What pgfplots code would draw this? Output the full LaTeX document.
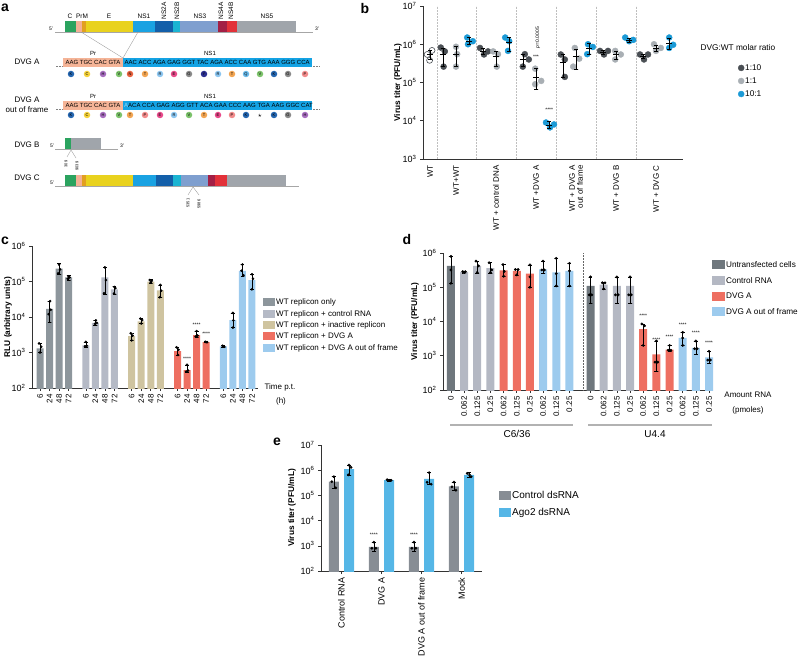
\documentclass[border=0pt]{standalone}
\usepackage{fontspec}
\setmainfont{Liberation Sans}
\usepackage{pgfplots}
\pgfplotsset{compat=1.18}

% genome colours
\definecolor{gC}{HTML}{2BA35F}
\definecolor{gPr}{HTML}{F3B196}
\definecolor{gM}{HTML}{E2A020}
\definecolor{gE}{HTML}{E9D21E}
\definecolor{gN1}{HTML}{1AA2E2}
\definecolor{gN2A}{HTML}{135FA9}
\definecolor{gN2B}{HTML}{1BB4D2}
\definecolor{gN3}{HTML}{7F9FCF}
\definecolor{gN4A}{HTML}{A31F45}
\definecolor{gN4B}{HTML}{E23139}
\definecolor{gN5}{HTML}{A0A5AB}
\definecolor{sal}{HTML}{F5B497}
\definecolor{seqb}{HTML}{14A3E4}
% amino acids
\definecolor{aK}{HTML}{2566B0}
\definecolor{aC}{HTML}{F5D23B}
\definecolor{aH}{HTML}{A76DBF}
\definecolor{aV}{HTML}{7CC36B}
\definecolor{aN}{HTML}{E8623F}
\definecolor{aT}{HTML}{F3A552}
\definecolor{aR}{HTML}{8CC6F0}
\definecolor{aE}{HTML}{E84A8A}
\definecolor{aG}{HTML}{8A8A8A}
\definecolor{aY}{HTML}{2A2E8F}
\definecolor{aQ}{HTML}{69B9E9}
\definecolor{aP}{HTML}{F28B8B}
% charts
\definecolor{bDark}{HTML}{4A4F54}
\definecolor{bLight}{HTML}{A9AFB4}
\definecolor{bBlue}{HTML}{1B9AD6}
\definecolor{cG1}{HTML}{8D969C}
\definecolor{cG2}{HTML}{B5BAC6}
\definecolor{cTan}{HTML}{CFC4A0}
\definecolor{cRed}{HTML}{EE6F61}
\definecolor{cBlue}{HTML}{9DCBEE}
\definecolor{dDark}{HTML}{6F777D}
\definecolor{dGray}{HTML}{B4B8C3}
\definecolor{eGray}{HTML}{878D94}
\definecolor{eBlue}{HTML}{55B6E6}

\newcommand{\fsz}[1]{\fontsize{#1}{#1}\selectfont}
\newcommand{\tpow}[1]{10\textsuperscript{#1}}

\begin{document}
\begin{tikzpicture}
\useasboundingbox (0pt,0pt) rectangle (800pt,-658pt);

%%%%%%%%%%%%%%%% panel a : schematic
\begin{scope}[x=1pt,y=-1pt]
\node[font=\bfseries\fsz{14}] at (5,8) {a};
\draw[black!35, line width=0.7pt] (55,32) -- (313,32);
\node[font=\fsz{5}] at (51,29) {5'};
\node[font=\fsz{5}] at (317,29) {3'};
\foreach \a/\b/\c in {65/76/gC, 76/82/gPr, 82/86/gM, 86/133/gE, 133/155/gN1,
    155/173/gN2A, 173/180/gN2B, 180/218/gN3, 218/227/gN4A, 227/237/gN4B, 237/296/gN5}
  \fill[\c] (\a,21) rectangle (\b,32);
\begin{scope}[font=\fsz{6.5}]
\node at (70,16) {C};
\node at (82,16) {PrM};
\node at (109,16) {E};
\node at (144,16) {NS1};
\node at (200,16) {NS3};
\node at (267,16) {NS5};
\node[rotate=90] at (164,11) {NS2A};
\node[rotate=90] at (177,11) {NS2B};
\node[rotate=90] at (221,11) {NS4A};
\node[rotate=90] at (231,11) {NS4B};
\end{scope}
\draw[black!40, line width=0.35pt] (81,32) -- (123,58) -- (138,32);

% DVG A
\node[font=\fsz{8}] at (27,62) {DVG A};
\fill[sal] (63,58) rectangle (123,67);
\fill[seqb] (123,58) rectangle (312,67);
\node[font=\fsz{6}] at (93,62.5) {AAG TGC CAC GTA};
\node[font=\fsz{6}, anchor=west, inner sep=0pt] at (124.5,62.5) {AAC ACC AGA GAG GGT TAC AGA ACC CAA GTG AAA GGG CCA};
\node[font=\fsz{6}] at (93,53) {Pr};
\node[font=\fsz{6}] at (210,53) {NS1};
\draw[black!50, densely dotted] (56,66) -- (62,66);
\draw[black!50, densely dotted] (313,66) -- (319,66);
\foreach \x/\l/\c in {71/K/aK, 87/C/aC, 103/H/aH, 119/V/aV, 130/N/aN, 145/T/aT,
    160/R/aR, 174/E/aE, 189/G/aG, 204/Y/aY, 218/R/aR, 232/T/aT, 246/Q/aQ,
    260/V/aV, 274/K/aK, 288/G/aG, 305/P/aP}
  \node[circle, fill=\c, inner sep=0pt, minimum size=6.5pt, font=\fsz{4}] at (\x,74) {\l};

% DVG A out of frame
\node[font=\fsz{8}] at (27,100) {DVG A};
\node[font=\fsz{8}] at (27,110) {out of frame};
\fill[sal] (63,101) rectangle (123,110);
\fill[seqb] (123,101) rectangle (312,110);
\node[font=\fsz{6}] at (93,105.5) {AAG TGC CAC GTA};
\node[font=\fsz{6}, anchor=west, inner sep=0pt] at (124,105.5) {{\color{white!55!seqb}A}ACA CCA GAG AGG GTT ACA GAA CCC AAG TGA AAG GGC CAT};
\node[font=\fsz{6}] at (93,96) {Pr};
\node[font=\fsz{6}] at (210,96) {NS1};
\draw[black!50, densely dotted] (56,109) -- (62,109);
\draw[black!50, densely dotted] (313,109) -- (319,109);
\foreach \x/\l/\c in {71/K/aK, 87/C/aC, 103/H/aH, 119/V/aV, 130/T/aT, 145/P/aP,
    160/E/aE, 174/R/aR, 189/V/aV, 204/T/aT, 218/E/aE, 232/P/aP, 246/K/aK,
    274/K/aK, 288/G/aG, 305/H/aH}
  \node[circle, fill=\c, inner sep=0pt, minimum size=6.5pt, font=\fsz{4}] at (\x,115) {\l};
\node[font=\fsz{7}] at (260,115.5) {$\star$};

% DVG B
\node[font=\fsz{8}] at (27,145) {DVG B};
\draw[black!35, line width=0.7pt] (55,149) -- (118,149);
\node[font=\fsz{5}] at (52,146) {5'};
\node[font=\fsz{5}] at (122,146) {3'};
\fill[gC] (65,138) rectangle (71,149);
\fill[gN5] (71,138) rectangle (101,149);
\draw[black!45, line width=0.3pt] (67,157) -- (71,150) -- (76,158);
\node[rotate=90, font=\fsz{4}] at (66,164) {309};
\node[rotate=90, font=\fsz{4}] at (77,166) {9039};

% DVG C
\node[font=\fsz{8}] at (27,178) {DVG C};
\draw[black!35, line width=0.7pt] (55,186) -- (299,186);
\node[font=\fsz{5}] at (52,183) {5'};
\foreach \a/\b/\c in {65/76/gC, 76/82/gPr, 82/86/gM, 86/133/gE, 133/156/gN1,
    156/173/gN2A, 173/181/gN2B, 181/208/gN3, 208/215/gN4A, 215/227/gN4B, 227/286/gN5}
  \fill[\c] (\a,175) rectangle (\b,186);
\draw[black!45, line width=0.3pt] (188,195) -- (193,187) -- (199,195);
\node[rotate=90, font=\fsz{4}] at (188,203) {5351};
\node[rotate=90, font=\fsz{4}] at (199,204) {5986};

% other panel letters and free text
\node[font=\bfseries\fsz{14}] at (365,8) {b};
\node[font=\bfseries\fsz{14}] at (5,241) {c};
\node[font=\bfseries\fsz{14}] at (407,239) {d};
\node[font=\bfseries\fsz{14}] at (277,442) {e};
\node[font=\fsz{8.3}, anchor=west] at (697,48) {DVG:WT molar ratio};
\node[font=\fsz{8}] at (280,387) {Time p.t.};
\node[font=\fsz{8}] at (281,401) {(h)};
\node[font=\fsz{8}] at (748,395) {Amount\,\,RNA};
\node[font=\fsz{8}] at (748,410) {(pmoles)};
\draw[black!30, line width=1.2pt] (450,425) -- (573,425);
\node[font=\fsz{10}] at (517,434) {C6/36};
\draw[black!30, line width=1.2pt] (588,425) -- (712,425);
\node[font=\fsz{10}] at (655,434) {U4.4};
\end{scope}

%%%%%%%%%%%%%%%% panel b
\begin{axis}[scale only axis, anchor=south west, clip mode=individual,
  axis x line=bottom, axis y line=left,
  axis line style={-, line width=0.8pt, black!80},
  ymode=log, yminorticks=false, unbounded coords=jump,
  tick align=outside, major tick length=3pt,
  tick style={line width=0.6pt, black!80},
  yticklabel style={font=\fsz{9}},
  xticklabel style={font=\fsz{8}, rotate=90, anchor=east, align=right},
  ylabel style={font=\bfseries\fsz{8.3}, at={(axis description cs:-0.096,0.5)}, anchor=center},
  legend cell align=left,
  at={(423pt,-159pt)}, width=260pt, height=153pt,
  xmin=-0.825, xmax=5.675, ymin=1e3, ymax=1e7,
  ytick={1e3,1e4,1e5,1e6,1e7}, yticklabels={\tpow3,\tpow4,\tpow5,\tpow6,\tpow7},
  xtick={-0.65,0,1,2,3,4,5},
  xticklabels={WT, WT+WT, WT + control DNA, WT +DVG A, {WT + DVG A\\out of frame}, WT + DVG B, WT + DVG C},
  major x tick style={draw=none},
  ylabel={Virus titer (PFU/mL)},
  legend style={draw=none, fill=none, at={(1.2,0.64)}, anchor=north west, font=\fsz{8.3}, row sep=3.8pt, nodes={inner sep=1pt}},
]
\draw[black!25, densely dotted, line width=0.5pt] (axis cs:-0.475,1e3) -- (axis cs:-0.475,1e7);
\draw[black!25, densely dotted, line width=0.5pt] (axis cs:0.5,1e3) -- (axis cs:0.5,1e7);
\draw[black!25, densely dotted, line width=0.5pt] (axis cs:1.5,1e3) -- (axis cs:1.5,1e7);
\draw[black!25, densely dotted, line width=0.5pt] (axis cs:2.5,1e3) -- (axis cs:2.5,1e7);
\draw[black!25, densely dotted, line width=0.5pt] (axis cs:3.5,1e3) -- (axis cs:3.5,1e7);
\draw[black!25, densely dotted, line width=0.5pt] (axis cs:4.5,1e3) -- (axis cs:4.5,1e7);
% WT alone
\addplot[forget plot, only marks, mark=*, mark size=3pt, draw=bDark, fill=white, line width=0.6pt]
  coordinates {(-0.72,5.4e5) (-0.60,6.9e5) (-0.66,3.8e5)};
% 1:10
\addplot[only marks, mark=*, mark size=3pt, color=bDark] coordinates {
  (-0.38,8.2e5) (-0.28,6.5e5) (-0.31,2.6e5)
  (0.60,8e5) (0.70,5.4e5) (0.80,6.5e5)
  (1.72,5.5e5) (1.82,4e5) (1.67,2.6e5)
  (2.62,5.4e5) (2.72,4e5) (2.72,1.4e5)
  (3.60,6.7e5) (3.70,5.4e5) (3.80,6.7e5)
  (4.60,5.4e5) (4.70,4e5) (4.80,5.4e5)};
\addlegendentry{1:10}
% 1:1
\addplot[only marks, mark=*, mark size=3pt, color=bLight] coordinates {
  (0,8.6e5) (0.03,5.5e5) (0,2.6e5)
  (0.93,6.5e5) (1.05,5.5e5) (1.02,2.6e5)
  (1.98,2.3e5) (2.13,1.1e5) (1.98,9e4)
  (2.97,8e5) (2.93,2.6e5) (3.08,4.2e5)
  (3.98,6.7e5) (3.98,4e5) (4.12,5.4e5)
  (4.95,1e6) (5.00,6.7e5) (5.12,8e5)};
\addlegendentry{1:1}
% 10:1
\addplot[only marks, mark=*, mark size=3pt, color=bBlue] coordinates {
  (0.28,1.5e6) (0.42,1.2e6) (0.30,1e6)
  (1.23,1.5e6) (1.33,1.2e6) (1.30,6.7e5)
  (2.25,9e3) (2.35,6.7e3) (2.45,8e3)
  (3.28,5.5e5) (3.30,1e6) (3.42,8.5e5)
  (4.23,1.5e6) (4.33,1.2e6) (4.43,1.3e6)
  (5.33,1.5e6) (5.33,8e5) (5.43,9.7e5)};
\addlegendentry{10:1}
% mean (short dash) and SD whiskers
\addplot[forget plot, black, line width=0.6pt, mark=none] coordinates {
(-0.70,4e5) (-0.60,4e5) (-0.65,4e5) (-0.65,6.8e5) (-0.70,6.8e5) (-0.60,6.8e5) (-0.65,nan) (-0.73,5.4e5) (-0.57,5.4e5) (-0.65,nan)
(-0.38,2.6e5) (-0.28,2.6e5) (-0.33,2.6e5) (-0.33,8e5) (-0.38,8e5) (-0.28,8e5) (-0.33,nan) (-0.41,5.6e5) (-0.25,5.6e5) (-0.33,nan)
(0.62,5.4e5) (0.72,5.4e5) (0.67,5.4e5) (0.67,8e5) (0.62,8e5) (0.72,8e5) (0.67,nan) (0.59,6.5e5) (0.75,6.5e5) (0.67,nan)
(1.62,2.6e5) (1.72,2.6e5) (1.67,2.6e5) (1.67,5.5e5) (1.62,5.5e5) (1.72,5.5e5) (1.67,nan) (1.59,4e5) (1.75,4e5) (1.67,nan)
(2.62,1.4e5) (2.72,1.4e5) (2.67,1.4e5) (2.67,5.5e5) (2.62,5.5e5) (2.72,5.5e5) (2.67,nan) (2.59,3.4e5) (2.75,3.4e5) (2.67,nan)
(3.62,5.6e5) (3.72,5.6e5) (3.67,5.6e5) (3.67,6.8e5) (3.62,6.8e5) (3.72,6.8e5) (3.67,nan) (3.59,6.2e5) (3.75,6.2e5) (3.67,nan)
(4.62,4.2e5) (4.72,4.2e5) (4.67,4.2e5) (4.67,5.6e5) (4.62,5.6e5) (4.72,5.6e5) (4.67,nan) (4.59,4.9e5) (4.75,4.9e5) (4.67,nan)
(-0.05,2.6e5) (0.05,2.6e5) (0,2.6e5) (0,8.8e5) (-0.05,8.8e5) (0.05,8.8e5) (0,nan) (-0.08,5.5e5) (0.08,5.5e5) (0,nan)
(0.95,2.6e5) (1.05,2.6e5) (1,2.6e5) (1,6.6e5) (0.95,6.6e5) (1.05,6.6e5) (1,nan) (0.92,4.8e5) (1.08,4.8e5) (1,nan)
(1.95,6.5e4) (2.05,6.5e4) (2,6.5e4) (2,2.3e5) (1.95,2.3e5) (2.05,2.3e5) (2,nan) (1.92,1.4e5) (2.08,1.4e5) (2,nan)
(2.95,2.2e5) (3.05,2.2e5) (3,2.2e5) (3,7.5e5) (2.95,7.5e5) (3.05,7.5e5) (3,nan) (2.92,4.7e5) (3.08,4.7e5) (3,nan)
(3.95,4e5) (4.05,4e5) (4,4e5) (4,6.7e5) (3.95,6.7e5) (4.05,6.7e5) (4,nan) (3.92,5.3e5) (4.08,5.3e5) (4,nan)
(4.95,6.5e5) (5.05,6.5e5) (5,6.5e5) (5,9.6e5) (4.95,9.6e5) (5.05,9.6e5) (5,nan) (4.92,8e5) (5.08,8e5) (5,nan)
(0.28,1e6) (0.38,1e6) (0.33,1e6) (0.33,1.5e6) (0.28,1.5e6) (0.38,1.5e6) (0.33,nan) (0.25,1.2e6) (0.41,1.2e6) (0.33,nan)
(1.28,6.7e5) (1.38,6.7e5) (1.33,6.7e5) (1.33,1.5e6) (1.28,1.5e6) (1.38,1.5e6) (1.33,nan) (1.25,1.1e6) (1.41,1.1e6) (1.33,nan)
(2.28,6.5e3) (2.38,6.5e3) (2.33,6.5e3) (2.33,9.5e3) (2.28,9.5e3) (2.38,9.5e3) (2.33,nan) (2.25,7.8e3) (2.41,7.8e3) (2.33,nan)
(3.28,5.5e5) (3.38,5.5e5) (3.33,5.5e5) (3.33,1.05e6) (3.28,1.05e6) (3.38,1.05e6) (3.33,nan) (3.25,8e5) (3.41,8e5) (3.33,nan)
(4.28,1.15e6) (4.38,1.15e6) (4.33,1.15e6) (4.33,1.45e6) (4.28,1.45e6) (4.38,1.45e6) (4.33,nan) (4.25,1.3e6) (4.41,1.3e6) (4.33,nan)
(5.28,7.5e5) (5.38,7.5e5) (5.33,7.5e5) (5.33,1.45e6) (5.28,1.45e6) (5.38,1.45e6) (5.33,nan) (5.25,1.05e6) (5.41,1.05e6)};
\node[font=\fsz{5}] at (axis cs:2,4.6e5) {***};
\node[font=\fsz{5}] at (axis cs:2.33,1.9e4) {****};
\node[font=\fsz{5}, rotate=90] at (axis cs:2.05,1.5e6) {\textit{p}=0.0005};
\end{axis}

%%%%%%%%%%%%%%%% panel c
\begin{axis}[scale only axis, anchor=south west, clip mode=individual,
  axis x line=bottom, axis y line=left,
  axis line style={-, line width=0.8pt, black!80},
  ymode=log, yminorticks=false, unbounded coords=jump,
  tick align=outside, major tick length=3pt,
  tick style={line width=0.6pt, black!80},
  yticklabel style={font=\fsz{9}},
  xticklabel style={font=\fsz{8}, rotate=90, anchor=east},
  ylabel style={font=\bfseries\fsz{8.3}, at={(axis description cs:-0.106,0.5)}, anchor=center},
  legend cell align=left,
  at={(32pt,-388pt)}, width=226pt, height=142pt,
  xmin=-0.84, xmax=22.83, ymin=1e2, ymax=1e6,
  ytick={1e2,1e3,1e4,1e5,1e6}, yticklabels={\tpow2,\tpow3,\tpow4,\tpow5,\tpow6},
  xtick={0,1,2,3,4.8,5.8,6.8,7.8,9.6,10.6,11.6,12.6,14.4,15.4,16.4,17.4,19.2,20.2,21.2,22.2},
  xticklabels={6,24,48,72,6,24,48,72,6,24,48,72,6,24,48,72,6,24,48,72},
  ylabel={RLU (arbitrary units)},
  legend image code/.code={\fill[#1, draw=none] (0pt,-3.5pt) rectangle (12pt,4.5pt);},
  legend style={draw=none, fill=none, at={(1.009,0.648)}, anchor=north west, font=\fsz{8}, row sep=2pt, nodes={inner sep=1pt}},
]
\addlegendimage{fill=cG1, draw=none}
\addlegendentry{WT replicon only}
\addlegendimage{fill=cG2, draw=none}
\addlegendentry{WT replicon + control RNA}
\addlegendimage{fill=cTan, draw=none}
\addlegendentry{WT replicon + inactive replicon}
\addlegendimage{fill=cRed, draw=none}
\addlegendentry{WT replicon + DVG A}
\addlegendimage{fill=cBlue, draw=none}
\addlegendentry{WT replicon + DVG A out of frame}
\addplot[forget plot, ybar, bar width=7pt, bar shift=0pt, draw=none, fill=cG1] coordinates {
  (0,1.3e3) (1,1.7e4) (2,2.3e5) (3,1.3e5)};
\addplot[forget plot, ybar, bar width=7pt, bar shift=0pt, draw=none, fill=cG2] coordinates {
  (4.8,1.6e3) (5.8,6.8e3) (6.8,1.3e5) (7.8,6e4)};
\addplot[forget plot, ybar, bar width=7pt, bar shift=0pt, draw=none, fill=cTan] coordinates {
  (9.6,2.9e3) (10.6,7.5e3) (11.6,1e5) (12.6,5.6e4)};
\addplot[forget plot, ybar, bar width=7pt, bar shift=0pt, draw=none, fill=cRed] coordinates {
  (14.4,1.1e3) (15.4,3.2e2) (16.4,3.1e3) (17.4,1.95e3)};
\addplot[forget plot, ybar, bar width=7pt, bar shift=0pt, draw=none, fill=cBlue] coordinates {
  (19.2,1.5e3) (20.2,8.2e3) (21.2,2e5) (22.2,1.1e5)};
% SD whiskers
\addplot[forget plot, black, line width=0.5pt, mark=none] coordinates {
(-0.2,1e3) (0.2,1e3) (0,1e3) (0,1.8e3) (-0.2,1.8e3) (0.2,1.8e3) (0,nan)
(0.8,7e3) (1.2,7e3) (1,7e3) (1,2.8e4) (0.8,2.8e4) (1.2,2.8e4) (1,nan)
(1.8,1.6e5) (2.2,1.6e5) (2,1.6e5) (2,3.2e5) (1.8,3.2e5) (2.2,3.2e5) (2,nan)
(2.8,1.1e5) (3.2,1.1e5) (3,1.1e5) (3,1.5e5) (2.8,1.5e5) (3.2,1.5e5) (3,nan)
(4.6,1.4e3) (5.0,1.4e3) (4.8,1.4e3) (4.8,2e3) (4.6,2e3) (5.0,2e3) (4.8,nan)
(5.6,6e3) (6.0,6e3) (5.8,6e3) (5.8,8e3) (5.6,8e3) (6.0,8e3) (5.8,nan)
(6.6,4.5e4) (7.0,4.5e4) (6.8,4.5e4) (6.8,2.6e5) (6.6,2.6e5) (7.0,2.6e5) (6.8,nan)
(7.6,4.5e4) (8.0,4.5e4) (7.8,4.5e4) (7.8,7.5e4) (7.6,7.5e4) (8.0,7.5e4) (7.8,nan)
(9.4,2.2e3) (9.8,2.2e3) (9.6,2.2e3) (9.6,3.6e3) (9.4,3.6e3) (9.8,3.6e3) (9.6,nan)
(10.4,6.5e3) (10.8,6.5e3) (10.6,6.5e3) (10.6,9e3) (10.4,9e3) (10.8,9e3) (10.6,nan)
(11.4,9e4) (11.8,9e4) (11.6,9e4) (11.6,1.15e5) (11.4,1.15e5) (11.8,1.15e5) (11.6,nan)
(12.4,3.6e4) (12.8,3.6e4) (12.6,3.6e4) (12.6,8e4) (12.4,8e4) (12.8,8e4) (12.6,nan)
(14.2,8.5e2) (14.6,8.5e2) (14.4,8.5e2) (14.4,1.4e3) (14.2,1.4e3) (14.6,1.4e3) (14.4,nan)
(15.2,2.8e2) (15.6,2.8e2) (15.4,2.8e2) (15.4,4.5e2) (15.2,4.5e2) (15.6,4.5e2) (15.4,nan)
(16.2,2.7e3) (16.6,2.7e3) (16.4,2.7e3) (16.4,4e3) (16.2,4e3) (16.6,4e3) (16.4,nan)
(17.2,1.9e3) (17.6,1.9e3) (17.4,1.9e3) (17.4,2.05e3) (17.2,2.05e3) (17.6,2.05e3) (17.4,nan)
(19.0,1.4e3) (19.4,1.4e3) (19.2,1.4e3) (19.2,1.6e3) (19.0,1.6e3) (19.4,1.6e3) (19.2,nan)
(20.0,5e3) (20.4,5e3) (20.2,5e3) (20.2,1.3e4) (20.0,1.3e4) (20.4,1.3e4) (20.2,nan)
(21.0,1.4e5) (21.4,1.4e5) (21.2,1.4e5) (21.2,3e5) (21.0,3e5) (21.4,3e5) (21.2,nan)
(22.0,6e4) (22.4,6e4) (22.2,6e4) (22.2,1.6e5) (22.0,1.6e5) (22.4,1.6e5)};
\addplot[forget plot, only marks, mark=*, mark size=1.1pt, black] coordinates {
  (-0.1,1.8e3) (0.12,1.45e3) (0,1.0e3)
  (1.05,2.8e4) (1.12,1.6e4) (0.9,1.2e4)
  (2,3e5) (2.1,2.2e5) (1.9,1.7e5)
  (3,1.4e5) (3.1,1.3e5) (2.9,1.2e5)
  (4.8,2e3) (4.7,1.5e3) (4.9,1.55e3)
  (5.85,8e3) (5.75,6.4e3) (5.95,6.8e3)
  (6.8,2.5e5) (6.9,1.1e5) (6.7,4.7e4)
  (7.8,7e4) (7.9,6.5e4) (7.75,4.6e4)
  (9.5,3.5e3) (9.7,3e3) (9.6,2.2e3)
  (10.5,9e3) (10.7,8.2e3) (10.6,6.6e3)
  (11.5,1.1e5) (11.7,1.05e5) (11.6,9.5e4)
  (12.6,8e4) (12.7,5.5e4) (12.55,3.6e4)
  (14.3,1.4e3) (14.5,1.2e3) (14.45,8.5e2)
  (15.4,4.5e2) (15.3,2.9e2) (15.5,3.1e2)
  (16.4,4e3) (16.3,2.8e3) (16.5,3e3)
  (17.3,2e3) (17.4,1.95e3) (17.5,1.95e3)
  (19.1,1.55e3) (19.2,1.5e3) (19.3,1.45e3)
  (20.2,1.3e4) (20.25,8e3) (20.2,5e3)
  (21.2,3e5) (21.1,2e5) (21.3,1.5e5)
  (22.2,1.6e5) (22.3,1.2e5) (22.2,6e4)};
\node[font=\fsz{5}] at (axis cs:15.4,6.6e2) {****};
\node[font=\fsz{5}] at (axis cs:16.4,5.9e3) {****};
\node[font=\fsz{5}] at (axis cs:17.4,3.3e3) {****};
\end{axis}

%%%%%%%%%%%%%%%% panel d
\begin{axis}[scale only axis, anchor=south west, clip mode=individual,
  axis x line=bottom, axis y line=left,
  axis line style={-, line width=0.8pt, black!80},
  ymode=log, yminorticks=false, unbounded coords=jump,
  tick align=outside, major tick length=3pt,
  tick style={line width=0.6pt, black!80},
  yticklabel style={font=\fsz{9}},
  xticklabel style={font=\fsz{8}, rotate=90, anchor=east},
  ylabel style={font=\bfseries\fsz{8.3}, at={(axis description cs:-0.104,0.5)}, anchor=center},
  legend cell align=left,
  at={(443pt,-390pt)}, width=270pt, height=137pt,
  xmin=-0.6, xmax=19.9, ymin=1e2, ymax=1e6,
  ytick={1e2,1e3,1e4,1e5,1e6}, yticklabels={\tpow2,\tpow3,\tpow4,\tpow5,\tpow6},
  xtick={0,1,2,3,4,5,6,7,8,9,10.6,11.6,12.6,13.6,14.6,15.6,16.6,17.6,18.6,19.6},
  xticklabels={0,0.062,0.125,0.25,0.062,0.125,0.25,0.062,0.125,0.25,0,0.062,0.125,0.25,0.062,0.125,0.25,0.062,0.125,0.25},
  ylabel={Virus titer (PFU/mL)},
  legend image code/.code={\fill[#1, draw=none] (0pt,-4pt) rectangle (13pt,5pt);},
  legend style={draw=none, fill=none, at={(0.985,0.963)}, anchor=north west, font=\fsz{8.2}, row sep=6pt, nodes={inner sep=1pt}},
]
\draw[black!60, densely dotted, line width=0.5pt] (axis cs:10.05,1e2) -- (axis cs:10.05,1e6);
\addlegendimage{fill=dDark, draw=none}
\addlegendentry{Untransfected cells}
\addlegendimage{fill=dGray, draw=none}
\addlegendentry{Control RNA}
\addlegendimage{fill=cRed, draw=none}
\addlegendentry{DVG A}
\addlegendimage{fill=cBlue, draw=none}
\addlegendentry{DVG A out of frame}
\addplot[forget plot, ybar, bar width=8pt, bar shift=0pt, draw=none, fill=dDark] coordinates {
  (0,4.2e5) (10.6,1.1e5)};
\addplot[forget plot, ybar, bar width=8pt, bar shift=0pt, draw=none, fill=dGray] coordinates {
  (1,2.8e5) (2,4.2e5) (3,3.6e5) (11.6,1.2e5) (12.6,1.1e5) (13.6,1.1e5)};
\addplot[forget plot, ybar, bar width=8pt, bar shift=0pt, draw=none, fill=cRed] coordinates {
  (4,3.1e5) (5,3e5) (6,2.5e5) (14.6,6e3) (15.6,1.1e3) (16.6,1.5e3)};
\addplot[forget plot, ybar, bar width=8pt, bar shift=0pt, draw=none, fill=cBlue] coordinates {
  (7,3.3e5) (8,2.7e5) (9,3e5) (17.6,3.3e3) (18.6,1.7e3) (19.6,9e2)};
% SD whiskers
\addplot[forget plot, black, line width=0.5pt, mark=none] coordinates {
(-0.15,1.3e5) (0.15,1.3e5) (0,1.3e5) (0,8e5) (-0.15,8e5) (0.15,8e5) (0,nan)
(0.85,2.65e5) (1.15,2.65e5) (1,2.65e5) (1,2.95e5) (0.85,2.95e5) (1.15,2.95e5) (1,nan)
(1.85,2.6e5) (2.15,2.6e5) (2,2.6e5) (2,5.8e5) (1.85,5.8e5) (2.15,5.8e5) (2,nan)
(2.85,2.6e5) (3.15,2.6e5) (3,2.6e5) (3,5.2e5) (2.85,5.2e5) (3.15,5.2e5) (3,nan)
(3.85,2.1e5) (4.15,2.1e5) (4,2.1e5) (4,4.6e5) (3.85,4.6e5) (4.15,4.6e5) (4,nan)
(4.85,2.2e5) (5.15,2.2e5) (5,2.2e5) (5,3.3e5) (4.85,3.3e5) (5.15,3.3e5) (5,nan)
(5.85,1e5) (6.15,1e5) (6,1e5) (6,4.5e5) (5.85,4.5e5) (6.15,4.5e5) (6,nan)
(6.85,2.5e5) (7.15,2.5e5) (7,2.5e5) (7,5.8e5) (6.85,5.8e5) (7.15,5.8e5) (7,nan)
(7.85,1.1e5) (8.15,1.1e5) (8,1.1e5) (8,7e5) (7.85,7e5) (8.15,7e5) (8,nan)
(8.85,1.1e5) (9.15,1.1e5) (9,1.1e5) (9,5e5) (8.85,5e5) (9.15,5e5) (9,nan)
(10.45,3.3e4) (10.75,3.3e4) (10.6,3.3e4) (10.6,2e5) (10.45,2e5) (10.75,2e5) (10.6,nan)
(11.45,9e4) (11.75,9e4) (11.6,9e4) (11.6,1.4e5) (11.45,1.4e5) (11.75,1.4e5) (11.6,nan)
(12.45,3.3e4) (12.75,3.3e4) (12.6,3.3e4) (12.6,2e5) (12.45,2e5) (12.75,2e5) (12.6,nan)
(13.45,3.3e4) (13.75,3.3e4) (13.6,3.3e4) (13.6,2e5) (13.45,2e5) (13.75,2e5) (13.6,nan)
(14.45,2e3) (14.75,2e3) (14.6,2e3) (14.6,8.5e3) (14.45,8.5e3) (14.75,8.5e3) (14.6,nan)
(15.45,3.5e2) (15.75,3.5e2) (15.6,3.5e2) (15.6,2.7e3) (15.45,2.7e3) (15.75,2.7e3) (15.6,nan)
(16.45,1.35e3) (16.75,1.35e3) (16.6,1.35e3) (16.6,2e3) (16.45,2e3) (16.75,2e3) (16.6,nan)
(17.45,2e3) (17.75,2e3) (17.6,2e3) (17.6,4.8e3) (17.45,4.8e3) (17.75,4.8e3) (17.6,nan)
(18.45,1.1e3) (18.75,1.1e3) (18.6,1.1e3) (18.6,2.7e3) (18.45,2.7e3) (18.75,2.7e3) (18.6,nan)
(19.45,6e2) (19.75,6e2) (19.6,6e2) (19.6,1.35e3) (19.45,1.35e3) (19.75,1.35e3)};
\addplot[forget plot, only marks, mark=*, mark size=1.2pt, black] coordinates {
  (0,8e5) (0,3.2e5) (0,1.3e5)
  (0.9,2.85e5) (1.0,2.75e5) (1.1,2.85e5)
  (1.9,5.8e5) (2.1,4.2e5) (2.0,2.7e5)
  (2.9,5.2e5) (3.1,3.2e5) (3.0,2.7e5)
  (3.95,4.6e5) (4.05,2.9e5) (4.0,2.1e5)
  (4.9,3.3e5) (5.1,3.3e5) (5.0,2.3e5)
  (6.0,4.5e5) (6.0,2e5) (6.0,1e5)
  (7.0,5.8e5) (6.9,3.2e5) (7.1,3.2e5)
  (8.0,7e5) (8.0,2.5e5) (8.0,1.1e5)
  (9.0,5e5) (9.0,3e5) (9.0,1.1e5)
  (10.6,2e5) (10.5,6e4) (10.7,6e4)
  (11.5,1.35e5) (11.7,1.35e5) (11.6,9e4)
  (12.6,2e5) (12.5,6e4) (12.7,6e4)
  (13.6,2e5) (13.5,6e4) (13.7,6e4)
  (14.5,8.5e3) (14.7,7.5e3) (14.6,2e3)
  (15.6,2.7e3) (15.5,6.5e2) (15.7,6.5e2)
  (16.6,2e3) (16.5,1.45e3) (16.7,1.45e3)
  (17.6,4.8e3) (17.6,3.3e3) (17.6,2e3)
  (18.6,2.7e3) (18.5,1.6e3) (18.7,1.6e3)
  (19.6,1.35e3) (19.5,7.5e2) (19.7,7.5e2)};
\node[font=\fsz{5}] at (axis cs:14.6,1.45e4) {****};
\node[font=\fsz{5}] at (axis cs:15.6,2.9e3) {****};
\node[font=\fsz{5}] at (axis cs:16.6,3.5e3) {****};
\node[font=\fsz{5}] at (axis cs:17.6,7.9e3) {****};
\node[font=\fsz{5}] at (axis cs:18.6,4.6e3) {****};
\node[font=\fsz{5}] at (axis cs:19.6,2.35e3) {****};
\end{axis}

%%%%%%%%%%%%%%%% panel e
\begin{axis}[scale only axis, anchor=south west, clip mode=individual,
  axis x line=bottom, axis y line=left,
  axis line style={-, line width=0.8pt, black!80},
  ymode=log, yminorticks=false, unbounded coords=jump,
  tick align=outside, major tick length=3pt,
  tick style={line width=0.6pt, black!80},
  yticklabel style={font=\fsz{9}},
  xticklabel style={font=\fsz{9}, rotate=90, anchor=east},
  ylabel style={font=\bfseries\fsz{8.3}, at={(axis description cs:-0.18,0.5)}, anchor=center},
  legend cell align=left,
  at={(321pt,-571pt)}, width=161pt, height=126pt,
  xmin=-0.51, xmax=3.51, ymin=1e2, ymax=1e7,
  ytick={1e2,1e3,1e4,1e5,1e6,1e7}, yticklabels={\tpow2,\tpow3,\tpow4,\tpow5,\tpow6,\tpow7},
  xtick={0,1,2,3},
  xticklabels={Control RNA, DVG A, DVG A out of frame, Mock},
  ylabel={Virus titer (PFU/mL)},
  legend image code/.code={\fill[#1, draw=none] (0pt,-4.5pt) rectangle (12pt,5pt);},
  legend style={draw=none, fill=none, at={(1.087,0.659)}, anchor=north west, font=\fsz{10}, row sep=6.7pt, nodes={inner sep=1pt}},
]
\addlegendimage{fill=eGray, draw=none}
\addlegendentry{Control dsRNA}
\addlegendimage{fill=eBlue, draw=none}
\addlegendentry{Ago2 dsRNA}
\addplot[forget plot, ybar, bar width=10pt, bar shift=0pt, draw=none, fill=eGray] coordinates {
  (-0.19,3.5e5) (0.81,9e2) (1.81,9e2) (2.81,2.3e5)};
\addplot[forget plot, ybar, bar width=10pt, bar shift=0pt, draw=none, fill=eBlue] coordinates {
  (0.19,1.1e6) (1.19,4e5) (2.19,4.5e5) (3.19,6.5e5)};
\addplot[forget plot, black, line width=0.5pt, mark=none] coordinates {
(-0.24,2e5) (-0.14,2e5) (-0.19,2e5) (-0.19,6e5) (-0.24,6e5) (-0.14,6e5) (-0.19,nan)
(0.76,6e2) (0.86,6e2) (0.81,6e2) (0.81,1.35e3) (0.76,1.35e3) (0.86,1.35e3) (0.81,nan)
(1.76,6e2) (1.86,6e2) (1.81,6e2) (1.81,1.35e3) (1.76,1.35e3) (1.86,1.35e3) (1.81,nan)
(2.76,1.6e5) (2.86,1.6e5) (2.81,1.6e5) (2.81,3.3e5) (2.76,3.3e5) (2.86,3.3e5) (2.81,nan)
(0.14,6.5e5) (0.24,6.5e5) (0.19,6.5e5) (0.19,1.6e6) (0.14,1.6e6) (0.24,1.6e6) (0.19,nan)
(1.14,3.7e5) (1.24,3.7e5) (1.19,3.7e5) (1.19,4.5e5) (1.14,4.5e5) (1.24,4.5e5) (1.19,nan)
(2.14,2.8e5) (2.24,2.8e5) (2.19,2.8e5) (2.19,8e5) (2.14,8e5) (2.24,8e5) (2.19,nan)
(3.14,5.3e5) (3.24,5.3e5) (3.19,5.3e5) (3.19,8e5) (3.14,8e5) (3.24,8e5)};
\addplot[forget plot, only marks, mark=*, mark size=1.2pt, black] coordinates {
  (-0.19,5.5e5) (-0.24,3.5e5) (-0.14,2e5)
  (0.81,1.4e3) (0.76,8e2) (0.86,8e2)
  (1.81,1.4e3) (1.76,8e2) (1.86,8e2)
  (2.81,3.4e5) (2.76,2.2e5) (2.86,1.6e5)
  (0.19,1.6e6) (0.24,1.3e6) (0.17,6.5e5)
  (1.14,4.2e5) (1.19,4e5) (1.24,4e5)
  (2.19,8e5) (2.14,3.3e5) (2.24,2.8e5)
  (3.14,7.5e5) (3.20,6.5e5) (3.24,5.5e5)};
\node[font=\fsz{5}] at (axis cs:0.81,2.7e3) {****};
\node[font=\fsz{5}] at (axis cs:1.81,2.7e3) {****};
\end{axis}
\end{tikzpicture}
\end{document}
